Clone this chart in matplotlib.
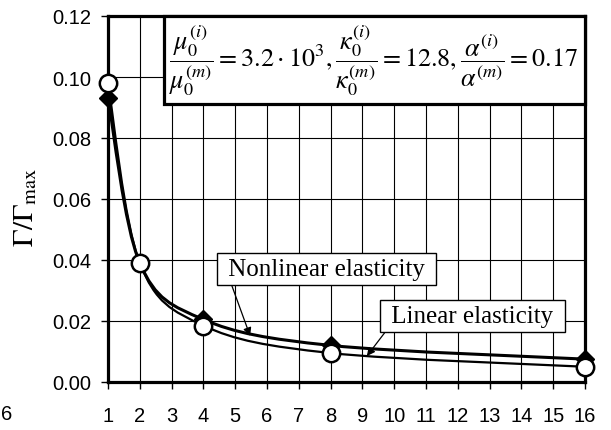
import matplotlib
matplotlib.use('Agg')
import matplotlib.pyplot as plt
from matplotlib.path import Path
from matplotlib.patches import PathPatch, Rectangle
import numpy as np

# number of inclusions (x axis) and normalised energy for both models
n_incl = [1, 2, 4, 8, 16]
linear_el = [0.098, 0.039, 0.0185, 0.0095, 0.005]
nonlinear_el = [0.093, 0.039, 0.0205, 0.012, 0.0075]
x_ticks = list(range(1, 17))
y_ticks = [0.00, 0.02, 0.04, 0.06, 0.08, 0.10, 0.12]

plt.rcParams['mathtext.fontset'] = 'stix'
plt.rcParams['font.family'] = ['Liberation Sans', 'DejaVu Sans']


def smooth_path(x, y):
    # excel-like smoothed line: cubic bezier pieces with catmull-rom handles
    pts = np.column_stack([x, y]).astype(float)
    verts = [pts[0]]
    codes = [Path.MOVETO]
    n = len(pts)
    for i in range(n - 1):
        p0 = pts[max(i - 1, 0)]
        p1 = pts[i]
        p2 = pts[i + 1]
        p3 = pts[min(i + 2, n - 1)]
        c1 = p1 + (p2 - p0) / 6.0
        c2 = p2 - (p3 - p1) / 6.0
        verts += [c1, c2, p2]
        codes += [Path.CURVE4] * 3
    return Path(verts, codes)


fig = plt.figure(figsize=(6.11, 4.31), dpi=100)
ax = fig.add_axes([108 / 611, 1 - 383 / 431, 477 / 611, 366 / 431])

ax.set_xlim(1, 16)
ax.set_ylim(0, 0.12)
ax.set_xticks(x_ticks)
ax.set_yticks(y_ticks)
ax.set_yticklabels(['%.2f' % v for v in y_ticks])
ax.grid(True, color='black', linewidth=0.8)
ax.set_axisbelow(True)
ax.tick_params(axis='x', direction='out', length=5, width=1, pad=12, labelsize=14.5)
ax.tick_params(axis='y', direction='out', length=5, width=1, pad=7, labelsize=14.5)
for s in ax.spines.values():
    s.set_linewidth(2.3)

# nonlinear curve with filled diamonds
ax.add_patch(PathPatch(smooth_path(n_incl, nonlinear_el), fill=False,
                       edgecolor='black', linewidth=2.2, zorder=3, clip_on=False))
ax.plot(n_incl, nonlinear_el, linestyle='none', marker='D', markersize=9,
        color='black', zorder=4, clip_on=False)

# linear curve with open circles
ax.add_patch(PathPatch(smooth_path(n_incl, linear_el), fill=False,
                       edgecolor='black', linewidth=1.6, zorder=5, clip_on=False))
ax.plot(n_incl, linear_el, linestyle='none', marker='o', markersize=12.5,
        markerfacecolor='white', markeredgecolor='black', markeredgewidth=1.8,
        zorder=6, clip_on=False)

# parameter box in the upper right corner
ax.add_patch(Rectangle((0.117, 0.76), 0.883, 0.24, transform=ax.transAxes,
                       facecolor='white', edgecolor='black', linewidth=2.3,
                       zorder=7, clip_on=False))
ax.text(0.557, 0.88,
        r'$\dfrac{\mu_0^{(i)}}{\mu_0^{(m)}}=3.2\cdot10^3,\dfrac{\kappa_0^{(i)}}{\kappa_0^{(m)}}'
        r'=12.8,\dfrac{\alpha^{(i)}}{\alpha^{(m)}}=0.17$',
        transform=ax.transAxes, ha='center', va='center', fontsize=18.8, zorder=8)

box = dict(boxstyle='square,pad=0.2', facecolor='white', edgecolor='black', linewidth=1)
ax.annotate(' Nonlinear elasticity ', xy=(5.47, 0.0151), xytext=(7.86, 0.0369),
            ha='center', va='center', fontsize=18, family='Liberation Serif',
            bbox=box, zorder=9,
            arrowprops=dict(arrowstyle='-|>', color='black', lw=0.9,
                            mutation_scale=12, relpos=(0.04, 0.0), shrinkA=0, shrinkB=0))
ax.annotate(' Linear elasticity ', xy=(9.14, 0.0085), xytext=(12.46, 0.0215),
            ha='center', va='center', fontsize=18, family='Liberation Serif',
            bbox=box, zorder=9,
            arrowprops=dict(arrowstyle='-|>', color='black', lw=0.9,
                            mutation_scale=12, relpos=(0.02, 0.0), shrinkA=0, shrinkB=0))

fig.text(25 / 611, 1 - 207 / 431, r'$\Gamma/\Gamma_{\mathrm{max}}$', rotation=90,
         ha='center', va='center', fontsize=21)
fig.text(1 / 611, 1 - 415 / 431, '6', ha='left', va='center', fontsize=14.5)

fig.savefig('out.png', dpi=100)
